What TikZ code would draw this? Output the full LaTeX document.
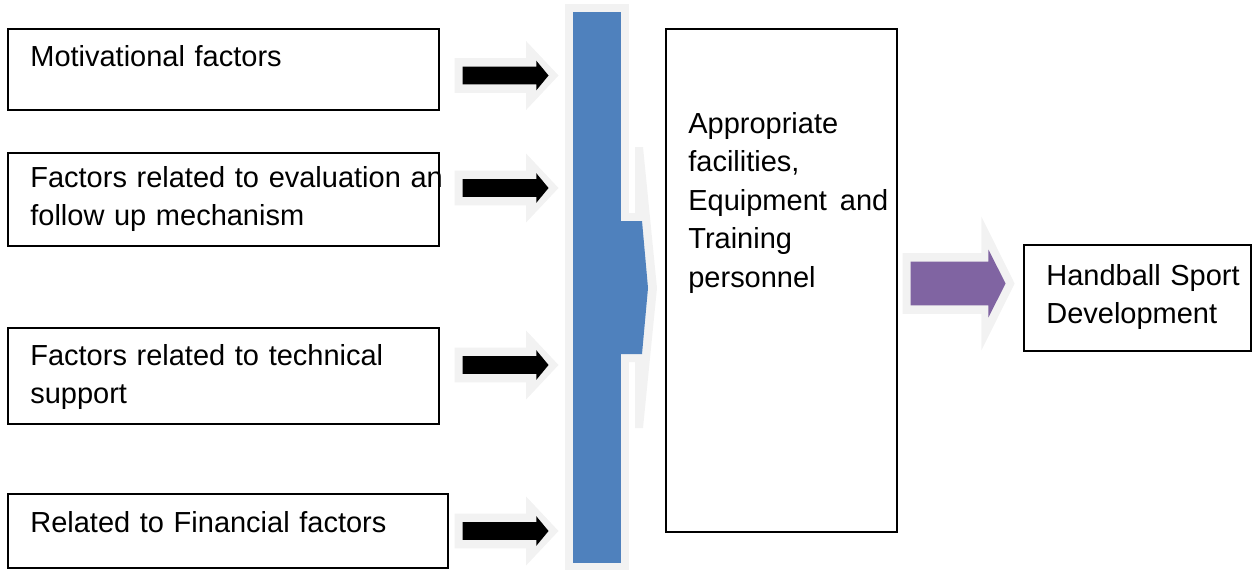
\documentclass[tikz,border=0pt]{standalone}
\usepackage{fontspec}
\setmainfont{Liberation Sans}
\usetikzlibrary{shapes.arrows,calc}
\definecolor{barblue}{HTML}{4F81BD}
\definecolor{devpurple}{HTML}{8064A2}
\definecolor{ghostgray}{HTML}{F2F2F2}

\begin{document}
\begin{tikzpicture}[x=0.02cm, y=-0.02cm,
  factbox/.style={rectangle, draw, line width=0.9pt, inner sep=0pt, minimum width=#1},
  factbox/.default=8.62cm,
  boxtext/.style={anchor=base west, inner sep=0pt, text width=#1, align=left, font=\fontsize{16.5}{22}\selectfont},
  boxtext/.default=8.3cm,
  ghostarr/.style={single arrow, fill=ghostgray, inner xsep=0pt, inner ysep=0.34cm, minimum width=0pt,
    single arrow head extend=0.34cm, single arrow tip angle=93.5, minimum height=2.08cm, anchor=tip},
  blkarr/.style={single arrow, fill=black, inner xsep=0pt, inner ysep=0.17cm, minimum width=0pt,
    single arrow head extend=0.12cm, single arrow tip angle=100.8, minimum height=1.72cm, anchor=tip},
  ghostbig/.style={single arrow, fill=ghostgray, inner xsep=0pt, inner ysep=0.6cm, minimum width=0pt,
    single arrow head extend=0.73cm, single arrow tip angle=127.2, minimum height=2.24cm, anchor=tip},
  pplarr/.style={single arrow, fill=devpurple, inner xsep=0pt, inner ysep=0.43cm, minimum width=0pt,
    single arrow head extend=0.24cm, single arrow tip angle=126.2, minimum height=1.9cm, anchor=tip}
]
  \useasboundingbox (0,0) rectangle (1254,569);

  % factor boxes
  \node[factbox, minimum height=1.62cm] (f1) at (223.5,69.5) {};
  \node[factbox, minimum height=1.86cm] (f2) at (223.5,199.5) {};
  \node[factbox, minimum height=1.92cm] (f3) at (223.5,376) {};
  \node[factbox=8.8cm, minimum height=1.48cm] (f4) at (228,531) {};
  \node[boxtext] (t1) at (30,66) {Motivational factors};
  \node[boxtext] (t2) at (30,187) {Factors related to evaluation an\\follow up mechanism};
  \node[boxtext] (t3) at (30,365) {Factors related to technical\\support};
  \node[boxtext] (t4) at (30,532) {Related to Financial factors};

  % arrows into the bar
  \node[ghostarr] (g1) at (559,75.5) {};
  \node[ghostarr] (g2) at (559,188) {};
  \node[ghostarr] (g3) at (559,365) {};
  \node[ghostarr] (g4) at (559,531) {};
  \node[blkarr] (a1) at (549,75.5) {};
  \node[blkarr] (a2) at (549,188) {};
  \node[blkarr] (a3) at (549,365) {};
  \node[blkarr] (a4) at (549,531) {};

  % the blue bar
  \fill[ghostgray] (635,147) -- (643,147) -- (657,288) -- (643,428) -- (635,428) -- cycle;
  \fill[ghostgray] (621,213) -- (645,213) -- (652,288) -- (645,362) -- (621,362) -- cycle;
  \node[draw=ghostgray, line width=0.16cm, fill=barblue, minimum width=1.12cm, minimum height=11.18cm, inner sep=0pt] (bar) at (597,287.5) {};
  \fill[barblue] (615,221) -- (642,221) -- (648,288) -- (642,354) -- (615,354) -- cycle;

  % facilities box
  \node[factbox=4.62cm, minimum height=10.06cm] (mid) at (781.5,280.5) {};
  \node[boxtext=4.0cm] (mt) at (688,133) {Appropriate\\facilities,\\Equipment\hfill and\\Training\\personnel};

  % development
  \node[ghostbig] (gp) at (1015,283.5) {};
  \node[pplarr] (pa) at (1006,283.5) {};
  \node[factbox=4.54cm, minimum height=2.12cm] (dev) at (1137.5,298) {};
  \node[boxtext=4.0cm] (dt) at (1046,285) {Handball Sport\\Development};
\end{tikzpicture}
\end{document}
